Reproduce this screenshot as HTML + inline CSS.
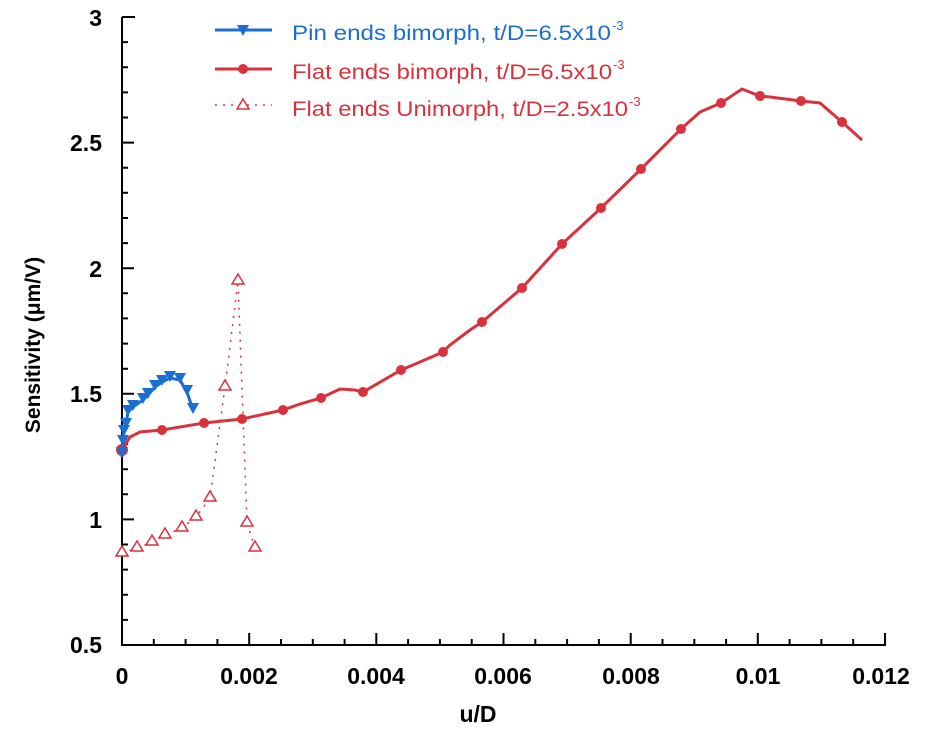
<!DOCTYPE html>
<html><head><meta charset="utf-8"><style>body{margin:0;background:#fff}svg{display:block}text{font-family:"Liberation Sans",sans-serif}</style></head><body>
<svg width="925" height="732" viewBox="0 0 925 732">
<g stroke="#000" stroke-width="2" fill="none">
<path d="M122,17 H135 M122,17 V645 H885 V633"/>
<path d="M122,42.1h6M122,67.2h6M122,92.4h6M122,117.5h6M122,142.6h12M122,167.7h6M122,192.8h6M122,218h6M122,243.1h6M122,268.2h12M122,293.3h6M122,318.4h6M122,343.6h6M122,368.7h6M122,393.8h12M122,418.9h6M122,444h6M122,469.2h6M122,494.3h6M122,519.4h12M122,544.5h6M122,569.6h6M122,594.8h6M122,619.9h6"/>
<path d="M153.8,645v-6M185.6,645v-6M217.4,645v-6M249.2,645v-12M281,645v-6M312.8,645v-6M344.6,645v-6M376.3,645v-12M408.1,645v-6M439.9,645v-6M471.7,645v-6M503.5,645v-12M535.3,645v-6M567.1,645v-6M598.9,645v-6M630.7,645v-12M662.5,645v-6M694.3,645v-6M726.1,645v-6M757.8,645v-12M789.6,645v-6M821.4,645v-6M853.2,645v-6"/>
</g>
<g font-size="23" font-weight="bold" text-anchor="end">
<text x="102" y="26">3</text><text x="102" y="151">2.5</text><text x="102" y="277">2</text><text x="102" y="402">1.5</text><text x="102" y="528">1</text><text x="102" y="653">0.5</text>
</g>
<g font-size="23" font-weight="bold" text-anchor="middle">
<text x="122" y="684">0</text><text x="249" y="684">0.002</text><text x="376" y="684">0.004</text><text x="503" y="684">0.006</text><text x="631" y="684">0.008</text><text x="758" y="684">0.01</text><text x="881" y="684">0.012</text>
<text x="478" y="722">u/D</text>
<text transform="translate(40,345) rotate(-90)" font-size="21">Sensitivity (μm/V)</text>
</g>
<!-- unimorph -->
<g stroke="#d8323c" stroke-width="1.5" fill="none">
<path d="M122,553 L137,548 152,542 165,535 182,528 196,517 210,498 225,387 238,281 247,523 255,548" stroke-dasharray="2,6"/>
<g fill="#fff">
<path d="M122,546l6,10h-12z M137,541l6,10h-12z M152,535l6,10h-12z M165,528l6,10h-12z M182,521l6,10h-12z M196,510l6,10h-12z M210,491l6,10h-12z M225,380l6,10h-12z M238,274l6,10h-12z M247,516l6,10h-12z M255,541l6,10h-12z"/>
</g>
</g>
<!-- flat bimorph -->
<g stroke="#d8323c" stroke-width="3" fill="none">
<path d="M122,450 L130,437 140,432 162,430 204,423 242,419 283,410 300,404 321,398 340,389 355,390 363,392 401,370 420,362 443,352 450,345 470,330 482,322 522,288 562,244 601,208 641,169 681,129 700,112 721,103 742,89 760,96 770,97 801,101 820,103 842,122 862,140"/>
</g>
<g fill="#d8323c">
<circle cx="122" cy="450" r="6"/><circle cx="162" cy="430" r="5"/><circle cx="204" cy="423" r="5"/><circle cx="242" cy="419" r="5"/><circle cx="283" cy="410" r="5"/><circle cx="321" cy="398" r="5"/><circle cx="363" cy="392" r="5"/><circle cx="401" cy="370" r="5"/><circle cx="443" cy="352" r="5"/><circle cx="482" cy="322" r="5"/><circle cx="522" cy="288" r="5"/><circle cx="562" cy="244" r="5"/><circle cx="601" cy="208" r="5"/><circle cx="641" cy="169" r="5"/><circle cx="681" cy="129" r="5"/><circle cx="721" cy="103" r="5"/><circle cx="760" cy="96" r="5"/><circle cx="801" cy="101" r="5"/><circle cx="842" cy="122" r="5"/>
</g>
<!-- pin bimorph -->
<g stroke="#1a6fd1" stroke-width="3" fill="none">
<path d="M122,457 L123,440 124,430 126,424 128,412 133,407 143,400 148,395 155,387 162,382 170,378 180,380 187,392 193,410"/>
</g>
<g fill="#1a6fd1">
<path d="M116,447h12l-6,11z M117,435h12l-6,11z M118,425h12l-6,11z M120,418h12l-6,11z M122,405h12l-6,11z M127,400h12l-6,11z M137,393h12l-6,11z M142,388h12l-6,11z M149,380h12l-6,11z M156,375h12l-6,11z M164,371h12l-6,11z M174,373h12l-6,11z M181,385h12l-6,11z M187,403h12l-6,11z"/>
</g>
<!-- legend -->
<path d="M215,30H272" stroke="#1a6fd1" stroke-width="3"/><path d="M237,25h12l-6,11z" fill="#1a6fd1"/>
<path d="M215,69H272" stroke="#d8323c" stroke-width="3"/><circle cx="243" cy="69" r="5" fill="#d8323c"/>
<path d="M215,105H272" stroke="#d8323c" stroke-width="1.5" stroke-dasharray="2,6"/><path d="M243,99l6,10h-12z" fill="#fff" stroke="#d8323c" stroke-width="1.5"/>
<g font-size="21">
<text x="292" y="40" fill="#1a6fd1" textLength="319" lengthAdjust="spacingAndGlyphs">Pin ends bimorph, t/D=6.5x10</text><text x="612" y="30" font-size="13" fill="#1a6fd1">-3</text>
<text x="292" y="79" fill="#d8323c" textLength="320" lengthAdjust="spacingAndGlyphs">Flat ends bimorph, t/D=6.5x10</text><text x="613" y="69" font-size="13" fill="#d8323c">-3</text>
<text x="292" y="116" fill="#d8323c" textLength="336" lengthAdjust="spacingAndGlyphs">Flat ends Unimorph, t/D=2.5x10</text><text x="629" y="106" font-size="13" fill="#d8323c">-3</text>
</g>
</svg>
</body></html>
